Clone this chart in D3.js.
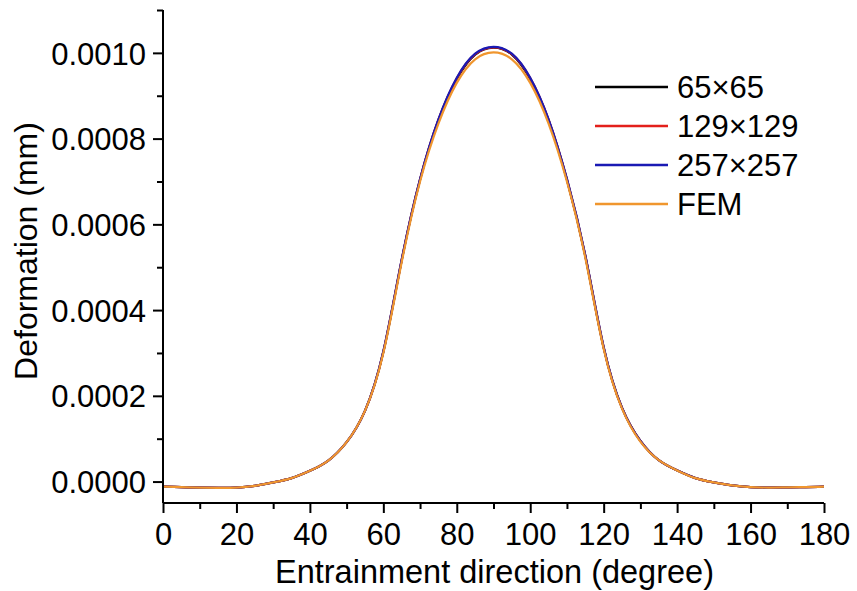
<!DOCTYPE html>
<html>
<head>
<meta charset="utf-8">
<script src="https://cdn.jsdelivr.net/npm/d3@7"></script>
<style>
  body { margin: 0; background: #fff; }
  svg { display: block; }
  text { font-family: Arial, "Liberation Sans", sans-serif; fill: #000; }
</style>
</head>
<body>
<svg id="chart" width="857" height="591"></svg>
<script>
// ---- data ----
const angles = [0,5,10,15,20,25,30,35,40,45,50,55,60,65,70,75,80,85,90,95,100,105,110,115,120,125,130,135,140,145,150,155,160,165,170,175,180];

const series65 = [-0.0000120,-0.0000130,-0.0000140,-0.0000145,-0.0000140,-0.0000100,-0.0000020,0.0000080,0.0000250,0.0000490,0.0000920,0.0001650,0.0003020,0.0005160,0.0007040,0.0008430,0.0009390,0.0009960,0.0010120,0.0009960,0.0009390,0.0008430,0.0007040,0.0005260,0.0003120,0.0001720,0.0000950,0.0000500,0.0000260,0.0000080,-0.0000020,-0.0000090,-0.0000130,-0.0000140,-0.0000135,-0.0000130,-0.0000120];
const series129 = [-0.0000120,-0.0000130,-0.0000140,-0.0000145,-0.0000140,-0.0000100,-0.0000020,0.0000080,0.0000250,0.0000490,0.0000920,0.0001650,0.0003030,0.0005170,0.0007050,0.0008440,0.0009410,0.0009970,0.0010130,0.0009970,0.0009410,0.0008440,0.0007050,0.0005270,0.0003130,0.0001720,0.0000950,0.0000500,0.0000260,0.0000080,-0.0000020,-0.0000090,-0.0000130,-0.0000140,-0.0000135,-0.0000130,-0.0000120];
const series257 = [-0.0000120,-0.0000130,-0.0000140,-0.0000145,-0.0000140,-0.0000100,-0.0000020,0.0000080,0.0000250,0.0000490,0.0000920,0.0001650,0.0003040,0.0005180,0.0007060,0.0008450,0.0009420,0.0009980,0.0010140,0.0009980,0.0009420,0.0008450,0.0007060,0.0005280,0.0003140,0.0001720,0.0000950,0.0000500,0.0000260,0.0000080,-0.0000020,-0.0000090,-0.0000130,-0.0000140,-0.0000135,-0.0000130,-0.0000120];
const seriesFEM = [-0.0000120,-0.0000130,-0.0000140,-0.0000145,-0.0000140,-0.0000100,-0.0000020,0.0000080,0.0000250,0.0000490,0.0000920,0.0001650,0.0003000,0.0005120,0.0007000,0.0008350,0.0009300,0.0009850,0.0010010,0.0009850,0.0009300,0.0008350,0.0007000,0.0005220,0.0003100,0.0001700,0.0000930,0.0000500,0.0000260,0.0000080,-0.0000020,-0.0000090,-0.0000130,-0.0000140,-0.0000135,-0.0000130,-0.0000120];

const seriesNames = ["65×65", "129×129", "257×257", "FEM"];
const seriesColors = ["#000000", "#e3201b", "#1a1ab4", "#f0962e"];
const seriesValues = [series65, series129, series257, seriesFEM];

const xMajorTicks = [0,20,40,60,80,100,120,140,160,180];
const xMinorTicks = [10,30,50,70,90,110,130,150,170];
const yMajorTicks = [0.0000,0.0002,0.0004,0.0006,0.0008,0.0010];
const yMinorTicks = [0.0001,0.0003,0.0005,0.0007,0.0009,0.0011];

const xTitle = "Entrainment direction (degree)";
const yTitle = "Deformation (mm)";

// ---- layout ----
const svg = d3.select("#chart");
const mLeft = 163, mRight = 824, mTop = 10, mBottom = 503;

const x = d3.scaleLinear().domain([0, 180]).range([mLeft, mRight]);
const y = d3.scaleLinear().domain([-0.00005, 0.0011]).range([mBottom, mTop]);

// curves
const line = d3.line()
  .x((d, i) => x(angles[i]))
  .y(d => y(d))
  .curve(d3.curveNatural);

const plot = svg.append("g");
seriesValues.forEach((vals, k) => {
  plot.append("path")
    .attr("d", line(vals))
    .attr("fill", "none")
    .attr("stroke", seriesColors[k])
    .attr("stroke-width", 2.2)
    .attr("stroke-linejoin", "round");
});

// axes
const axisW = 2;
const tickFont = 31;
const xAxis = svg.append("g").attr("transform", `translate(0,${mBottom})`)
  .call(d3.axisBottom(x).tickValues(xMajorTicks).tickSize(10).tickPadding(10).tickFormat(d3.format("d")));
const xAxisMinor = svg.append("g").attr("transform", `translate(0,${mBottom})`)
  .call(d3.axisBottom(x).tickValues(xMinorTicks).tickSize(6).tickFormat(""));
const yAxis = svg.append("g").attr("transform", `translate(${mLeft},0)`)
  .call(d3.axisLeft(y).tickValues(yMajorTicks).tickSize(10).tickPadding(7).tickFormat(d3.format(".4f")));
const yAxisMinor = svg.append("g").attr("transform", `translate(${mLeft},0)`)
  .call(d3.axisLeft(y).tickValues(yMinorTicks).tickSize(6).tickFormat(""));

[xAxis, xAxisMinor, yAxis, yAxisMinor].forEach(g => {
  g.select(".domain").attr("stroke", "#000").attr("stroke-width", axisW);
  g.selectAll(".tick line").attr("stroke", "#000").attr("stroke-width", axisW);
  g.selectAll(".tick text").attr("font-size", tickFont).attr("fill", "#000")
    .attr("font-family", "Arial, 'Liberation Sans', sans-serif");
});
xAxis.select(".domain").attr("d", `M${mLeft},0H${mRight}`);
xAxisMinor.select(".domain").remove();
yAxis.select(".domain").attr("d", `M0,${mTop}V${mBottom}`);
yAxisMinor.select(".domain").remove();
xAxis.selectAll(".tick text").attr("dy", "0.71em");
yAxis.selectAll(".tick text").attr("dy", "0.36em");

// titles
svg.append("text")
  .attr("x", (mLeft + mRight) / 2 + 1)
  .attr("y", 583)
  .attr("text-anchor", "middle")
  .attr("font-size", 32.5)
  .text(xTitle);
svg.append("text")
  .attr("transform", `translate(37,${251}) rotate(-90)`)
  .attr("text-anchor", "middle")
  .attr("font-size", 32)
  .text(yTitle);

// legend
const legend = svg.append("g");
const legY0 = 87, legDy = 39;
seriesNames.forEach((name, k) => {
  const ly = legY0 + k * legDy;
  legend.append("line")
    .attr("x1", 595).attr("x2", 668)
    .attr("y1", ly).attr("y2", ly)
    .attr("stroke", seriesColors[k]).attr("stroke-width", 2.5);
  legend.append("text")
    .attr("x", 677).attr("y", ly)
    .attr("dy", "0.36em")
    .attr("font-size", 31)
    .text(name);
});
</script>
</body>
</html>
